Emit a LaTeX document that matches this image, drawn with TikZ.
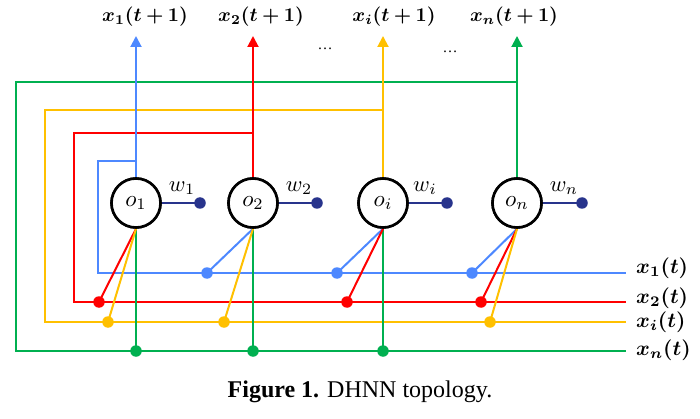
\documentclass[tikz,border=0pt]{standalone}
\usepackage{fix-cm}
\usepackage{amsmath}
\usepackage{bm}
\usepackage{graphicx}
\usepackage{fontspec}
\setmainfont{Liberation Serif}
\usetikzlibrary{arrows.meta}
\definecolor{blueC}{RGB}{77,136,255}
\definecolor{redC}{RGB}{255,0,0}
\definecolor{yellowC}{RGB}{255,192,0}
\definecolor{greenC}{RGB}{0,176,80}
\definecolor{navyC}{RGB}{40,52,140}
\newcommand{\nlab}[1]{\scalebox{2.3}{$#1$}}
\newcommand{\wlabt}[1]{\scalebox{2.25}{$#1$}}
\newcommand{\xlab}[1]{\scalebox{1.95}{$\bm{#1}$}}
\newcommand{\xlabr}[1]{\scalebox{2.1}{$\bm{#1}$}}
\begin{document}
\begin{tikzpicture}[x=1pt,y=-1pt,
  neuron/.style={circle,draw=black,line width=2.6pt,minimum size=49pt,inner sep=0pt,fill=white},
  dotn/.style={circle,fill,inner sep=0pt,minimum size=11.5pt},
  wire/.style={line width=2pt},
  outarrow/.style={wire,-{Triangle[width=11pt,length=11pt]}},
  lab/.style={inner sep=0pt},
  wlab/.style={inner sep=0pt}]
\useasboundingbox (0,0) rectangle (700,419);
% neurons
\node[neuron] (o1) at (136,203) {};
\node[neuron] (o2) at (253,203) {};
\node[neuron] (oi) at (383,203) {};
\node[neuron] (on) at (517,203) {};
% arrow tips
\coordinate (t1) at (136,36);
\coordinate (t2) at (253,36);
\coordinate (ti) at (383,36);
\coordinate (tn) at (517,36);
% junctions
\coordinate (j1) at (136,161);
\coordinate (j2) at (253,133);
\coordinate (ji) at (383,110);
\coordinate (jn) at (517,82);
\coordinate (c1) at (98,273);
\coordinate (c2) at (74,302);
\coordinate (ci) at (45,322);
\coordinate (cn) at (16,351);
\coordinate (e1) at (626,273);
\coordinate (e2) at (626,302);
\coordinate (ei) at (626,322);
\coordinate (en) at (626,351);
% feedback loops
\draw[wire,greenC] (jn) -| (cn) -- (en);
\draw[wire,yellowC] (ji) -| (ci) -- (ei);
\draw[wire,redC] (j2) -| (c2) -- (e2);
\draw[wire,blueC] (j1) -| (c1) -- (e1);
% outputs
\draw[outarrow,blueC] (o1.north) -- (t1);
\draw[outarrow,redC] (o2.north) -- (t2);
\draw[outarrow,yellowC] (oi.north) -- (ti);
\draw[outarrow,greenC] (on.north) -- (tn);
% input dots
\node[dotn,redC] (d1r) at (99,302) {};
\node[dotn,yellowC] (d1y) at (108,322) {};
\node[dotn,greenC] (d1g) at (136,351) {};
\node[dotn,blueC] (d2b) at (207,273) {};
\node[dotn,yellowC] (d2y) at (224,322) {};
\node[dotn,greenC] (d2g) at (253,351) {};
\node[dotn,blueC] (dib) at (337,273) {};
\node[dotn,redC] (dir) at (347,302) {};
\node[dotn,greenC] (dig) at (383,351) {};
\node[dotn,blueC] (dnb) at (472,273) {};
\node[dotn,redC] (dnr) at (481,302) {};
\node[dotn,yellowC] (dny) at (490,322) {};
% connections
\draw[wire,greenC] (o1.south) -- (d1g.center);
\draw[wire,redC] (o1.south) -- (d1r.center);
\draw[wire,yellowC] (o1.south) -- (d1y.center);
\draw[wire,greenC] (o2.south) -- (d2g.center);
\draw[wire,blueC] (o2.south) -- (d2b.center);
\draw[wire,yellowC] (o2.south) -- (d2y.center);
\draw[wire,greenC] (oi.south) -- (dig.center);
\draw[wire,blueC] (oi.south) -- (dib.center);
\draw[wire,redC] (oi.south) -- (dir.center);
\draw[wire,blueC] (on.south) -- (dnb.center);
\draw[wire,redC] (on.south) -- (dnr.center);
\draw[wire,yellowC] (on.south) -- (dny.center);
% circles on top, with their labels
\node[neuron] (o1t) at (o1) {\nlab{o_1}};
\node[neuron] (o2t) at (o2) {\nlab{o_2}};
\node[neuron] (oit) at (oi) {\nlab{o_i}};
\node[neuron] (ont) at (on) {\nlab{o_n}};
% weights
\node[dotn,navyC] (w1) at (200,203) {};
\node[dotn,navyC] (w2) at (317,203) {};
\node[dotn,navyC] (wi) at (447,203) {};
\node[dotn,navyC] (wn) at (582,203) {};
\draw[wire,navyC] (o1.east) -- (w1.center);
\draw[wire,navyC] (o2.east) -- (w2.center);
\draw[wire,navyC] (oi.east) -- (wi.center);
\draw[wire,navyC] (on.east) -- (wn.center);
\node[wlab] (lw1) at (182,188) {\wlabt{w_1}};
\node[wlab] (lw2) at (299,188) {\wlabt{w_2}};
\node[wlab] (lwi) at (425,188) {\wlabt{w_i}};
\node[wlab] (lwn) at (564,188) {\wlabt{w_n}};
% top labels
\node[lab] (x1o) at (145,17) {\xlab{x_1(t+1)}};
\node[lab] (x2o) at (261,17) {\xlab{x_2(t+1)}};
\node[lab] (xio) at (394,17) {\xlab{x_i(t+1)}};
\node[lab] (xno) at (514,17) {\xlab{x_n(t+1)}};
\node[font=\fontsize{15}{17}\selectfont] (dots1) at (325,49) {\dots};
\node[font=\fontsize{15}{17}\selectfont] (dots2) at (450,52) {\dots};
% right labels
\node[lab,anchor=west] (x1i) at (636,268) {\xlabr{x_1(t)}};
\node[lab,anchor=west] (x2i) at (636,298) {\xlabr{x_2(t)}};
\node[lab,anchor=west] (xii) at (636,322) {\xlabr{x_i(t)}};
\node[lab,anchor=west] (xni) at (636,350) {\xlabr{x_n(t)}};
% caption
\node[font=\fontsize{24}{27}\selectfont] (cap) at (360,392) {\textbf{Figure 1.} DHNN topology.};
\end{tikzpicture}
\end{document}
